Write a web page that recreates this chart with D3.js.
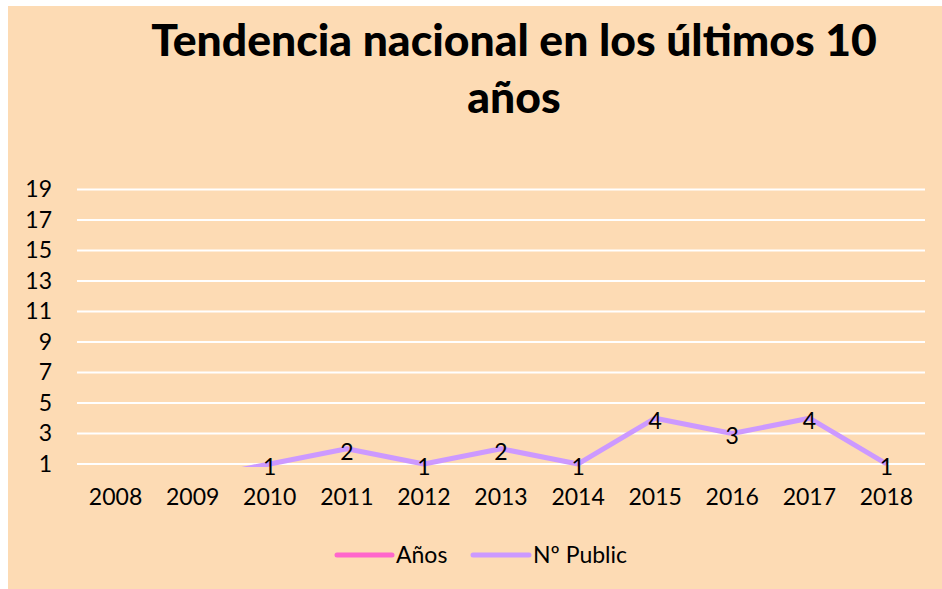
<!DOCTYPE html>
<html>
<head>
<meta charset="utf-8">
<script src="https://cdn.jsdelivr.net/npm/d3@7"></script>
<style>
  html, body { margin: 0; padding: 0; background: #ffffff; }
  svg { display: block; font-family: Lato, "Open Sans", sans-serif; }
</style>
</head>
<body>
<div id="chart"></div>
<script>
const years = ['2008', '2009', '2010', '2011', '2012', '2013', '2014', '2015', '2016', '2017', '2018'];
const aniosValues = [2008, 2009, 2010, 2011, 2012, 2013, 2014, 2015, 2016, 2017, 2018];
const publicValues = [0, 0, 1, 2, 1, 2, 1, 4, 3, 4, 1];
const yTicks = [1, 3, 5, 7, 9, 11, 13, 15, 17, 19];
const seriesNames = ['Años', 'Nº Public'];
const titleLines = ['Tendencia nacional en los últimos 10', 'años'];

const W = 942, H = 589;
const PLOT = { left: 77, right: 925, top: 185, bottom: 467 };
const COLORS = { 'Años': '#ff66cc', 'Nº Public': '#cc99ff' };
const FONT_SIZE = 23;

const svg = d3.select('#chart').append('svg')
  .attr('width', W)
  .attr('height', H);

// chart area background
svg.append('rect')
  .attr('x', 8).attr('y', 6)
  .attr('width', W - 8).attr('height', H - 6)
  .attr('fill', '#fddbb4');

// title
const title = svg.append('text')
  .attr('text-anchor', 'middle')
  .attr('font-weight', 900)
  .attr('font-size', 40)
  .attr('fill', '#000');
titleLines.forEach((t, i) => {
  title.append('tspan')
    .attr('x', 514)
    .attr('y', 56 + i * 57)
    .text(t);
});
// fit first line to the reference width
const firstLine = title.select('tspan').node();
const w0 = firstLine.getComputedTextLength();
title.attr('font-size', 40 * 726 / w0);

const x = d3.scaleBand().domain(years).range([PLOT.left, PLOT.right]);
const y = d3.scaleLinear().domain([0.8, 19.3]).range([PLOT.bottom, PLOT.top]);

// gridlines
svg.append('g')
  .selectAll('line')
  .data(yTicks)
  .join('line')
  .attr('x1', PLOT.left).attr('x2', PLOT.right)
  .attr('y1', d => y(d)).attr('y2', d => y(d))
  .attr('stroke', '#ffffff')
  .attr('stroke-width', 2);

// y axis labels
const yAxis = svg.append('g')
  .attr('transform', `translate(${PLOT.left - 19},0)`)
  .call(d3.axisLeft(y).tickValues(yTicks).tickSize(0).tickPadding(6));
yAxis.select('.domain').remove();
yAxis.selectAll('text')
  .attr('font-size', FONT_SIZE)
  .attr('font-family', 'Lato, sans-serif')
  .attr('fill', '#000');

// x axis labels
const xAxis = svg.append('g')
  .attr('transform', `translate(0,${PLOT.bottom})`)
  .call(d3.axisBottom(x).tickSize(0).tickPadding(22));
xAxis.select('.domain').remove();
xAxis.selectAll('text')
  .attr('font-size', FONT_SIZE)
  .attr('font-family', 'Lato, sans-serif')
  .attr('fill', '#000');

// clip to plot area
svg.append('clipPath').attr('id', 'plotClip')
  .append('rect')
  .attr('x', PLOT.left).attr('y', PLOT.top)
  .attr('width', PLOT.right - PLOT.left)
  .attr('height', PLOT.bottom - PLOT.top);

const line = d3.line()
  .x((d, i) => x(years[i]) + x.bandwidth() / 2)
  .y(d => y(d));

const plot = svg.append('g').attr('clip-path', 'url(#plotClip)');

plot.append('path')
  .datum(aniosValues)
  .attr('fill', 'none')
  .attr('stroke', COLORS['Años'])
  .attr('stroke-width', 5)
  .attr('d', line);

plot.append('path')
  .datum(publicValues)
  .attr('fill', 'none')
  .attr('stroke', COLORS['Nº Public'])
  .attr('stroke-width', 5)
  .attr('stroke-linejoin', 'round')
  .attr('d', line);

// data labels (only visible points)
svg.append('g')
  .selectAll('text')
  .data(publicValues.map((v, i) => ({ v, i })).filter(d => d.v >= y.domain()[0]))
  .join('text')
  .attr('x', d => x(years[d.i]) + x.bandwidth() / 2)
  .attr('y', d => y(d.v) + 11)
  .attr('text-anchor', 'middle')
  .attr('font-size', FONT_SIZE)
  .attr('fill', '#000')
  .text(d => d.v);

// legend
const legendItems = [
  { name: seriesNames[0], x1: 337, x2: 392 },
  { name: seriesNames[1], x1: 473, x2: 529 }
];
const legend = svg.append('g');
legendItems.forEach(item => {
  legend.append('line')
    .attr('x1', item.x1).attr('x2', item.x2)
    .attr('y1', 555).attr('y2', 555)
    .attr('stroke', COLORS[item.name])
    .attr('stroke-width', 5)
    .attr('stroke-linecap', 'round');
  legend.append('text')
    .attr('x', item.x2 + 4)
    .attr('y', 563)
    .attr('font-size', FONT_SIZE)
    .attr('fill', '#000')
    .text(item.name);
});
</script>
</body>
</html>
